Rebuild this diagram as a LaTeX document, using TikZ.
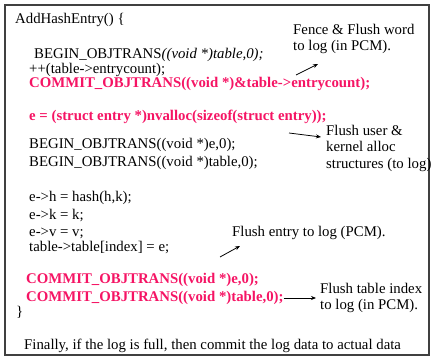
\documentclass[tikz,border=0pt]{standalone}
\usepackage{fontspec}
\setmainfont{Liberation Serif}
\usetikzlibrary{arrows.meta}
\definecolor{commitred}{RGB}{245,20,100}

\begin{document}
\begin{tikzpicture}[x=1pt, y=-1pt,
    % --- text styles ---
    code/.style={anchor=west, inner sep=0pt,
      font=\fontsize{14.8}{17.5}\selectfont},
    hot/.style={code, text=commitred,
      font=\fontsize{14.8}{17.5}\selectfont\bfseries},
    note/.style={anchor=west, inner sep=0pt, align=left,
      font=\fontsize{14.8}{16.5}\selectfont},
    % --- lines ---
    arr/.style={-{Stealth[length=5pt,width=4pt]}, line width=0.8pt},
    frame/.style={draw=black!75, line width=1.3pt},
  ]
  \useasboundingbox (0,0) rectangle (432,358);
  \draw[frame] (5,5) rectangle (429,355);

  % ============== CODE LINES ==============
  \node[code] (fname)    at (15,20)  {AddHashEntry() \{};
  \node[code] (begintab) at (34,55)  {BEGIN\_OBJTRANS\textit{((void *)table,0);}};
  \node[code] (incr)     at (29,70)  {++(table->entrycount);};
  \node[hot]  (commitcnt) at (29,84) {COMMIT\_OBJTRANS((void *)\&table->entrycount);};

  \node[hot]  (alloc)    at (29,117) {e = (struct entry *)nvalloc(sizeof(struct entry));};
  \node[code] (begine)   at (29,145) {BEGIN\_OBJTRANS((void *)e,0);};
  \node[code] (begint)   at (29,163) {BEGIN\_OBJTRANS((void *)table,0);};

  \node[code] (seth)     at (29,198) {e->h = hash(h,k);};
  \node[code] (setk)     at (29,216) {e->k = k;};
  \node[code] (setv)     at (29,233) {e->v = v;};
  \node[code] (settab)   at (29,248) {table->table[index] = e;};

  \node[hot]  (commite)  at (26,280) {COMMIT\_OBJTRANS((void *)e,0);};
  \node[hot]  (committ)  at (26,298) {COMMIT\_OBJTRANS((void *)table,0);};
  \node[code] (fend)     at (16,312) {\}};

  \node[code] (final)    at (24,346) {Finally, if the log is full, then commit the log data to actual data};

  % ============== NOTES ==============
  \node[note] (fence)     at (293,39)  {Fence \& Flush word\\to log (in PCM).};
  \node[note] (flushuser) at (326,148) {Flush user \&\\kernel alloc\\structures (to log)};
  \node[note] (flushent)  at (232,233) {Flush entry to log (PCM).};
  \node[note] (flushtab)  at (320,298) {Flush table index\\to log (in PCM).};

  % ============== ARROWS ==============
  \coordinate (fencetail) at (296,75);
  \coordinate (fencetip)  at (318,64);
  \coordinate (usertail)  at (289,133);
  \coordinate (usertip)   at (321,137);
  \coordinate (enttail)   at (220,257);
  \coordinate (enttip)    at (240,246);

  \draw[arr] (fencetail) -- (fencetip);
  \draw[arr] (usertail)  -- (usertip);
  \draw[arr] (enttail)   -- (enttip);
  \draw[arr] (committ.east) -- ([xshift=-4pt]flushtab.west);

\end{tikzpicture}
\end{document}
